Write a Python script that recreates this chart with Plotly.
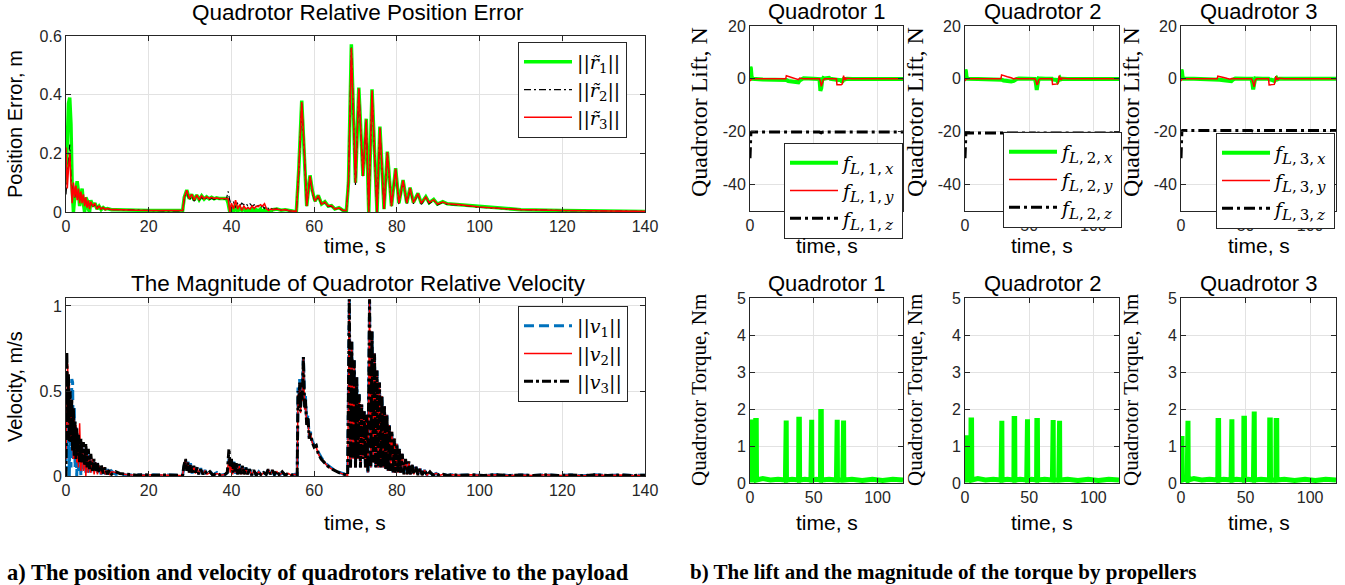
import plotly.graph_objects as go

W, H = 1345, 585

# ---------------- relative position error (m) ----------------
t_pos = [0, 0.3, 0.6, 0.9, 1.2, 1.5, 1.8, 2.1, 2.4, 2.7, 3.0, 3.3, 3.6, 3.9, 4.2, 4.5, 4.8, 5.1, 5.4, 5.7,
         6.0, 6.5, 7.0, 7.5, 8.0, 8.5, 9.0, 9.5, 10, 11, 12,
         14, 17, 20, 24, 28.2,
         28.6, 29.2, 29.8, 30.4, 31.0, 31.6, 32.2, 32.8, 33.4, 34.0, 34.6, 35.2, 35.8, 36.4, 37.0, 37.6, 38.2, 38.8,
         39.2, 39.6, 40.0, 40.5, 41.0, 41.5, 42.0, 42.5, 43.0, 43.5, 44.0, 44.5, 45.0, 45.5, 46.0, 46.5, 47.0,
         47.5, 48.0, 48.5, 49.0, 49.5, 50, 51, 52, 53, 54, 55, 55.7,
         56.3, 57.0, 57.6, 58.2, 59.0, 59.6, 60.2, 61.0, 61.8, 62.6, 63.4, 64.2, 65, 66, 67, 67.8,
         68.3, 69.0, 70.0, 70.8, 71.8, 72.6, 73.2, 74.0, 75.2, 75.9, 76.9, 77.7, 78.7, 79.7, 80.5, 81.5, 82.4,
         83.2, 84.0, 85.1, 85.9, 87.0, 87.8, 88.9, 89.8, 91.1, 92.2,
         95, 100, 105, 110, 120, 130, 140]

r1 = [0.10, 0.28, 0.37, 0.39, 0.30, 0.08, 0.0, 0.05, 0.09, 0.105, 0.07, 0.02, 0.06, 0.08, 0.03, 0.0, 0.05, 0.04, 0.01, 0.0,
      0.04, 0.02, 0.03, 0.01, 0.02, 0.008, 0.015, 0.01, 0.012, 0.008, 0.008,
      0.007, 0.006, 0.005, 0.005, 0.005,
      0.05, 0.075, 0.045, 0.06, 0.04, 0.058, 0.042, 0.055, 0.044, 0.052, 0.045, 0.05, 0.045, 0.048, 0.046, 0.047, 0.046, 0.046,
      0.03, 0.0, 0.02, 0.0, 0.025, 0.0, 0.015, 0.005, 0.012, 0.0, 0.01, 0.003, 0.01, 0.0, 0.008, 0.003, 0.01,
      0.0, 0.008, 0.0, 0.006, 0.002, 0.008, 0.01, 0.006, 0.008, 0.004, 0.003, 0.002,
      0.15, 0.38, 0.22, 0.02, 0.125, 0.07, 0.037, 0.057, 0.027, 0.035, 0.02, 0.022, 0.01, 0.015, 0.005, 0.005,
      0.10, 0.572, 0.10, 0.424, 0.123, 0.318, 0.0, 0.418, 0.0, 0.291, 0.01, 0.206, 0.02, 0.149, 0.03, 0.109, 0.03,
      0.083, 0.032, 0.064, 0.03, 0.052, 0.032, 0.043, 0.027, 0.035, 0.028,
      0.025, 0.017, 0.012, 0.008, 0.005, 0.003, 0.002]

r2 = [0.06, 0.12, 0.20, 0.23, 0.12, 0.06, 0.09, 0.05, 0.08, 0.05, 0.07, 0.04, 0.06, 0.04, 0.05, 0.03, 0.04, 0.02, 0.035, 0.02,
      0.03, 0.02, 0.025, 0.015, 0.02, 0.01, 0.015, 0.008, 0.012, 0.008, 0.008,
      0.007, 0.006, 0.005, 0.004, 0.004,
      0.045, 0.07, 0.04, 0.055, 0.037, 0.054, 0.04, 0.051, 0.041, 0.049, 0.042, 0.047, 0.043, 0.045, 0.044, 0.045, 0.044, 0.045,
      0.07, 0.04, 0.02, 0.035, 0.015, 0.03, 0.02, 0.03, 0.025, 0.03, 0.02, 0.028, 0.02, 0.025, 0.018, 0.022, 0.015,
      0.02, 0.012, 0.02, 0.01, 0.015, 0.008, 0.012, 0.006, 0.008, 0.004, 0.003, 0.002,
      0.14, 0.37, 0.21, 0.02, 0.12, 0.065, 0.035, 0.053, 0.025, 0.032, 0.018, 0.02, 0.01, 0.013, 0.005, 0.005,
      0.10, 0.56, 0.09, 0.42, 0.12, 0.31, 0.0, 0.405, 0.0, 0.285, 0.01, 0.2, 0.02, 0.145, 0.025, 0.105, 0.027,
      0.08, 0.028, 0.062, 0.026, 0.05, 0.028, 0.041, 0.024, 0.033, 0.026,
      0.024, 0.016, 0.011, 0.008, 0.005, 0.003, 0.002]

r3 = [0.22, 0.08, 0.15, 0.20, 0.10, 0.03, 0.10, 0.05, 0.09, 0.04, 0.08, 0.03, 0.07, 0.03, 0.06, 0.02, 0.05, 0.015, 0.04, 0.01,
      0.035, 0.02, 0.03, 0.01, 0.02, 0.01, 0.015, 0.008, 0.012, 0.008, 0.008,
      0.008, 0.006, 0.005, 0.005, 0.005,
      0.05, 0.074, 0.046, 0.06, 0.041, 0.058, 0.043, 0.055, 0.045, 0.052, 0.046, 0.05, 0.046, 0.048, 0.046, 0.047, 0.046, 0.046,
      0.045, 0.0, 0.03, 0.01, 0.04, 0.01, 0.025, 0.005, 0.02, 0.01, 0.015, 0.01, 0.02, 0.012, 0.02, 0.018, 0.025,
      0.02, 0.028, 0.01, 0.005, 0.01, 0.008, 0.01, 0.006, 0.008, 0.004, 0.003, 0.002,
      0.15, 0.375, 0.22, 0.02, 0.122, 0.07, 0.037, 0.056, 0.027, 0.034, 0.02, 0.022, 0.01, 0.014, 0.005, 0.005,
      0.10, 0.56, 0.10, 0.422, 0.123, 0.315, 0.0, 0.415, 0.0, 0.288, 0.01, 0.204, 0.02, 0.147, 0.03, 0.108, 0.03,
      0.082, 0.032, 0.063, 0.03, 0.051, 0.032, 0.042, 0.027, 0.034, 0.028,
      0.025, 0.017, 0.012, 0.008, 0.005, 0.003, 0.002]

# ---------------- relative velocity magnitude (m/s) ----------------
t_vel_head = [0, 0.2, 0.4, 0.6, 0.8, 1.0, 1.2, 1.4, 1.6, 1.8, 2.0, 2.2, 2.4, 2.6, 2.8, 3.0, 3.3, 3.6, 3.9, 4.2, 4.5,
              4.8, 5.1, 5.4, 5.7, 6.0, 6.4, 6.8, 7.2, 7.6, 8.0, 8.5, 9.0, 9.5, 10, 10.5, 11, 12,
              13, 15, 17, 19, 21, 23, 25, 27, 28.2,
              28.5, 28.9, 29.2, 29.5, 29.8, 30.1, 30.5, 30.9, 31.3, 31.7, 32.1, 32.6, 33.1, 33.6, 34.1, 34.8, 35.5,
              36.5, 37.5, 38.5,
              39.0, 39.4, 39.7, 40.0, 40.3, 40.6, 40.9, 41.2, 41.5, 41.9, 42.3, 42.7, 43.1, 43.5, 43.9, 44.4, 44.9,
              45.4, 46.0, 46.6, 47.2, 47.8, 48.4, 48.9, 49.4, 49.9, 50.4, 51.0, 51.6, 52.3, 53.0, 53.7, 54.5, 55.3, 55.9,
              56.1, 56.3, 56.5, 56.7, 56.9, 57.1, 57.4, 57.7, 57.9, 58.2, 58.5, 58.8, 59.1, 59.5, 60.0, 60.5, 61.0,
              61.7, 62.4, 63.2, 64.0, 65.0, 66.0, 67.0, 67.8, 68.1]

v1_head = [0.0, 0.4, 0.1, 0.45, 0.0, 0.35, 0.05, 0.57, 0.55, 0.1, 0.4, 0.05, 0.3, 0.0, 0.25, 0.03, 0.2, 0.0, 0.18, 0.04, 0.17,
           0.02, 0.15, 0.02, 0.13, 0.02, 0.1, 0.02, 0.08, 0.02, 0.06, 0.01, 0.05, 0.01, 0.04, 0.01, 0.03, 0.01,
           0.012, 0.004, 0.008, 0.003, 0.007, 0.003, 0.006, 0.002, 0.004,
           0.05, 0.09, 0.04, 0.085, 0.02, 0.075, 0.015, 0.065, 0.02, 0.055, 0.01, 0.045, 0.01, 0.035, 0.01, 0.03, 0.005,
           0.02, 0.005, 0.01,
           0.02, 0.1, 0.04, 0.09, 0.02, 0.085, 0.01, 0.075, 0.01, 0.065, 0.01, 0.055, 0.01, 0.05, 0.005, 0.04, 0.005,
           0.03, 0.005, 0.025, 0.005, 0.02, 0.01, 0.035, 0.01, 0.03, 0.005, 0.025, 0.005, 0.02, 0.005, 0.015, 0.005, 0.01, 0.003,
           0.52, 0.42, 0.57, 0.4, 0.52, 0.47, 0.70, 0.42, 0.47, 0.31, 0.36, 0.23, 0.26, 0.21, 0.18, 0.18, 0.14,
           0.11, 0.085, 0.065, 0.05, 0.033, 0.022, 0.013, 0.009, 0.005]

v2_head = [0.1, 0.5, 0.66, 0.3, 0.55, 0.2, 0.45, 0.15, 0.4, 0.1, 0.35, 0.1, 0.3, 0.08, 0.2, 0.05, 0.31, 0.03, 0.2, 0.03, 0.15,
           0.0, 0.14, 0.02, 0.12, 0.02, 0.1, 0.01, 0.08, 0.01, 0.06, 0.01, 0.05, 0.01, 0.035, 0.01, 0.025, 0.02,
           0.014, 0.008, 0.006, 0.004, 0.007, 0.004, 0.005, 0.003, 0.004,
           0.06, 0.095, 0.03, 0.08, 0.02, 0.065, 0.02, 0.055, 0.015, 0.05, 0.01, 0.04, 0.01, 0.03, 0.01, 0.02, 0.005,
           0.015, 0.005, 0.01,
           0.03, 0.1, 0.02, 0.08, 0.01, 0.07, 0.02, 0.06, 0.01, 0.06, 0.01, 0.05, 0.01, 0.045, 0.01, 0.035, 0.005,
           0.03, 0.005, 0.025, 0.005, 0.02, 0.01, 0.04, 0.01, 0.03, 0.01, 0.025, 0.005, 0.02, 0.005, 0.015, 0.005, 0.01, 0.003,
           0.48, 0.4, 0.54, 0.37, 0.49, 0.44, 0.69, 0.39, 0.44, 0.3, 0.34, 0.22, 0.25, 0.2, 0.17, 0.17, 0.13,
           0.1, 0.08, 0.06, 0.045, 0.03, 0.02, 0.012, 0.008, 0.005]

v3_head = [0.0, 0.73, 0.35, 0.6, 0.2, 0.5, 0.2, 0.45, 0.15, 0.4, 0.12, 0.32, 0.1, 0.28, 0.12, 0.25, 0.08, 0.22, 0.08, 0.2, 0.06,
           0.19, 0.05, 0.16, 0.04, 0.13, 0.03, 0.1, 0.03, 0.08, 0.02, 0.065, 0.015, 0.05, 0.01, 0.035, 0.01, 0.025,
           0.015, 0.01, 0.005, 0.008, 0.004, 0.006, 0.004, 0.005, 0.004,
           0.06, 0.1, 0.03, 0.08, 0.02, 0.07, 0.02, 0.06, 0.02, 0.05, 0.01, 0.04, 0.01, 0.03, 0.01, 0.025, 0.005,
           0.015, 0.005, 0.01,
           0.02, 0.16, 0.05, 0.1, 0.02, 0.08, 0.02, 0.08, 0.01, 0.07, 0.01, 0.06, 0.01, 0.05, 0.01, 0.04, 0.005,
           0.035, 0.005, 0.025, 0.005, 0.02, 0.01, 0.04, 0.01, 0.035, 0.01, 0.03, 0.005, 0.025, 0.005, 0.015, 0.005, 0.01, 0.003,
           0.5, 0.4, 0.55, 0.38, 0.5, 0.45, 0.70, 0.4, 0.45, 0.3, 0.35, 0.22, 0.25, 0.2, 0.17, 0.18, 0.13,
           0.1, 0.08, 0.06, 0.045, 0.03, 0.02, 0.012, 0.008, 0.005]

# oscillating section after 68 s, shared by all three quadrotors
t_vel_tail = [68.5, 68.8, 69.1, 69.4, 69.7, 70.0, 70.3, 70.6, 70.9, 71.2, 71.5, 71.8, 72.1, 72.4, 72.7, 73.0,
              73.4, 73.7, 74.0, 74.3, 74.6, 74.9, 75.2, 75.5, 75.8, 76.1, 76.4, 76.7, 77.0, 77.3, 77.6, 77.9,
              78.2, 78.5, 78.8, 79.1, 79.4, 79.7, 80.0, 80.3, 80.6, 80.9, 81.3, 81.7, 82.1, 82.5, 82.9, 83.3,
              83.7, 84.1, 84.6, 85.1, 85.6, 86.1, 86.7, 87.3, 88.0, 88.7, 89.5, 90.3, 91.2, 92.2,
              93.5, 95, 98, 101, 104, 107, 110, 113, 116, 119, 122, 125, 128, 131, 134, 137, 140]
vel_tail = [1.04, 0.05, 0.79, 0.1, 0.68, 0.05, 0.58, 0.1, 0.48, 0.05, 0.42, 0.1, 0.38, 0.05, 0.36, 0.02,
            1.04, 0.05, 0.85, 0.08, 0.72, 0.05, 0.62, 0.05, 0.55, 0.05, 0.47, 0.05, 0.41, 0.04, 0.36, 0.03,
            0.30, 0.03, 0.26, 0.02, 0.22, 0.02, 0.19, 0.02, 0.16, 0.02, 0.13, 0.01, 0.1, 0.01, 0.085, 0.01,
            0.065, 0.01, 0.055, 0.005, 0.045, 0.005, 0.035, 0.005, 0.025, 0.005, 0.015, 0.003, 0.01, 0.003,
            0.008, 0.004, 0.007, 0.003, 0.008, 0.003, 0.006, 0.003, 0.007, 0.003, 0.006, 0.002, 0.007, 0.003,
            0.006, 0.003, 0.005]

# ---------------- lift components (N) ----------------
t_lift = [0, 0.3, 0.7, 1.2, 2.0, 10, 20, 28.0, 28.5, 30, 33, 36, 38, 39, 40.5, 42, 50, 54.5, 55.2, 55.9,
          56.6, 57.5, 58.5, 62, 63, 67.8, 68.2, 70, 71.5, 72.2, 72.8, 73.4, 74.0, 74.6, 75.2, 76, 80, 90, 100, 110, 120]

fx1 = [0.5, 4.5, 4.0, 1.0, 0.0, -0.2, -0.2, -0.2, -0.4, -0.8, -1.1, -1.2, -1.3, -0.6, 0.0, 0.2, 0.0, -0.1, -4.5, -3.5,
       -0.5, 0.3, 0.1, 0.4, 0.0, 0.0, -0.3, -0.4, -0.5, -1.3, -0.5, 0.0, 0.3, -0.2, 0.1, 0.0, -0.1, -0.1, -0.1, -0.1, -0.1]
fy1 = [-0.5, -0.8, -0.3, 0.0, 0.0, 0.0, 0.0, 0.0, 1.2, 1.0, 0.6, 0.1, -0.3, 0.3, 0.2, 0.0, 0.0, 0.0, -1.0, -2.8,
       -1.8, -0.3, 0.0, 0.0, 0.0, 0.0, -2.2, -2.3, -2.2, -2.0, -1.0, 1.2, -0.3, 0.5, -0.2, 0.2, 0.0, 0.0, 0.0, 0.0, 0.0]
fz1 = [-30, -22, -20.3, -20.1, -20.1, -20.1, -20.1, -20.1, -20.0, -20.0, -20.1, -20.2, -20.2, -20.1, -20.1, -20.1,
       -20.1, -20.1, -20.3, -20.4, -20.2, -20.1, -20.1, -20.1, -20.1, -20.1, -20.0, -20.1, -20.2, -20.2, -20.1,
       -20.0, -20.1, -20.1, -20.1, -20.1, -20.1, -20.1, -20.1, -20.1, -20.1]

fx2 = [0.5, 3.5, 3.0, 0.8, 0.0, -0.1, -0.1, -0.1, -0.3, -0.6, -0.9, -1.0, -0.8, -0.4, 0.0, 0.1, 0.0, 0.0, -1.5, -4.2,
       -2.0, 0.2, 0.1, 0.3, 0.0, 0.0, -0.2, -0.3, -0.4, -1.0, -0.4, 0.0, 0.3, -0.2, 0.1, 0.0, -0.1, -0.1, -0.1, -0.1, -0.1]
fy2 = [-0.3, -0.5, -0.2, 0.0, 0.0, 0.0, 0.0, 0.0, 1.5, 1.2, 0.8, 0.4, 0.0, 0.2, 0.1, 0.0, 0.0, 0.0, -0.5, -2.1,
       -2.0, -0.3, 0.0, 0.0, 0.0, 0.0, -2.1, -2.1, -2.0, -1.9, -1.0, 1.2, -0.3, 0.5, -0.2, 0.2, 0.0, 0.0, 0.0, 0.0, 0.0]
fz2 = [-30, -22, -20.6, -20.5, -20.5, -20.5, -20.5, -20.5, -20.4, -20.4, -20.5, -20.6, -20.6, -20.5, -20.5, -20.5,
       -20.5, -20.5, -20.7, -20.8, -20.6, -20.5, -20.5, -20.5, -20.5, -20.5, -20.4, -20.5, -20.6, -20.6, -20.5,
       -20.4, -20.5, -20.5, -20.5, -20.5, -20.5, -20.5, -20.5, -20.5, -20.5]

fx3 = [0.5, 3.5, 3.0, 0.8, 0.0, 0.0, 0.0, 0.0, -0.1, -0.3, -0.5, -0.8, -1.0, -0.9, -0.2, 0.1, 0.0, 0.0, -1.5, -4.0,
       -2.0, 0.2, 0.1, 0.3, 0.0, 0.0, -0.2, -0.3, -0.4, -0.8, -0.3, 0.0, 0.3, -0.2, 0.1, 0.0, 0.0, 0.0, 0.0, 0.0, 0.0]
fy3 = [-0.3, -0.5, -0.2, 0.0, 0.0, 0.0, 0.0, 0.0, 1.0, 0.9, 0.5, 0.1, -0.1, 0.1, 0.0, 0.0, 0.0, 0.0, -0.5, -1.5,
       -3.0, -0.5, 0.0, 0.0, 0.0, 0.0, -2.3, -2.3, -2.2, -2.1, -1.0, 1.0, -0.3, 0.4, -0.2, 0.2, 0.0, 0.0, 0.0, 0.0, 0.0]
fz3 = [-30, -22, -19.6, -19.5, -19.5, -19.5, -19.5, -19.5, -19.4, -19.4, -19.5, -19.6, -19.6, -19.5, -19.5, -19.5,
       -19.5, -19.5, -19.7, -19.8, -19.6, -19.5, -19.5, -19.5, -19.5, -19.5, -19.4, -19.5, -19.6, -19.6, -19.5,
       -19.4, -19.5, -19.5, -19.5, -19.5, -19.5, -19.5, -19.5, -19.5, -19.5]

# ---------------- propeller torque magnitude (Nm) ----------------
t_tq1 = [0, 0.2, 0.4, 0.8, 1.0, 3, 4.3, 4.5, 4.9, 5.1, 10, 16, 22, 27.8, 28.0, 28.4, 28.6, 33, 38.1, 38.3, 38.7, 38.9,
         43, 47.8, 48.0, 48.4, 48.6, 52, 55.3, 55.5, 55.9, 56.1, 62, 67.8, 68.0, 68.4, 68.6, 72.8, 73.0, 73.4, 73.6,
         80, 88, 96, 104, 112, 120]
tq1 = [0.08, 0.08, 1.65, 1.65, 0.08, 0.1, 0.08, 1.69, 1.69, 0.08, 0.12, 0.08, 0.1, 0.08, 1.69, 1.69, 0.08, 0.1, 0.08,
       1.72, 1.72, 0.08, 0.1, 0.08, 1.71, 1.71, 0.08, 0.1, 0.08, 1.93, 1.93, 0.08, 0.1, 0.08, 1.71, 1.71, 0.08, 0.08,
       1.69, 1.69, 0.08, 0.1, 0.07, 0.1, 0.07, 0.1, 0.08]

t_tq2 = [0, 0.2, 0.4, 0.8, 1.0, 3, 4.5, 4.7, 5.1, 5.3, 10, 16, 22, 28.1, 28.3, 28.7, 28.9, 33, 38.1, 38.3, 38.7, 38.9,
         43, 48.1, 48.3, 48.7, 48.9, 52, 55.8, 56.0, 56.4, 56.6, 62, 68.1, 68.3, 68.7, 68.9, 73.1, 73.3, 73.7, 73.9,
         80, 88, 96, 104, 112, 120]
tq2 = [0.08, 0.08, 1.22, 1.22, 0.08, 0.1, 0.08, 1.7, 1.7, 0.08, 0.12, 0.08, 0.1, 0.08, 1.68, 1.68, 0.08, 0.1, 0.08,
       1.74, 1.74, 0.08, 0.1, 0.08, 1.72, 1.72, 0.08, 0.1, 0.08, 1.69, 1.69, 0.08, 0.1, 0.08, 1.7, 1.7, 0.08, 0.08,
       1.68, 1.68, 0.08, 0.1, 0.07, 0.1, 0.07, 0.1, 0.08]

t_tq3 = [0, 0.2, 0.4, 0.8, 1.0, 3, 4.8, 5.0, 5.4, 5.6, 10, 16, 22, 28.5, 28.7, 29.1, 29.3, 33, 38.8, 39.0, 39.4, 39.6,
         43, 48.5, 48.7, 49.1, 49.3, 52, 56.1, 56.3, 56.7, 56.9, 62, 68.5, 68.7, 69.1, 69.3, 73.5, 73.7, 74.1, 74.3,
         80, 88, 96, 104, 112, 120]
tq3 = [0.08, 0.08, 1.2, 1.2, 0.08, 0.1, 0.08, 1.68, 1.68, 0.08, 0.12, 0.08, 0.1, 0.08, 1.69, 1.69, 0.08, 0.1, 0.08,
       1.72, 1.72, 0.08, 0.1, 0.08, 1.75, 1.75, 0.08, 0.1, 0.08, 1.93, 1.93, 0.08, 0.1, 0.08, 1.7, 1.7, 0.08, 0.08,
       1.69, 1.69, 0.08, 0.1, 0.07, 0.1, 0.07, 0.1, 0.08]

pos_names = ["||<i>r\u0303</i><sub>1</sub>||", "||<i>r\u0303</i><sub>2</sub>||", "||<i>r\u0303</i><sub>3</sub>||"]
vel_names = ["||<i>v</i><sub>1</sub>||", "||<i>v</i><sub>2</sub>||", "||<i>v</i><sub>3</sub>||"]
quad_titles = ["Quadrotor 1", "Quadrotor 2", "Quadrotor 3"]

# ---------------- styling ----------------
SANS = "Liberation Sans"
SERIF = "Liberation Serif"
MATH = "DejaVu Serif"
GREEN, RED, BLACK, BLUE = "#00ff00", "#ff0000", "#000000", "#0072bd"
AXC = "#262626"


def px_x(p):
    return p / W


def px_y(p):
    return 1 - p / H


def axis_style(**kw):
    d = dict(showline=True, linecolor=AXC, linewidth=1, mirror="ticks", ticks="inside", ticklen=5,
             tickcolor=AXC, showgrid=True, gridcolor="#e2e2e2", gridwidth=1, zeroline=False,
             automargin=False, tickfont=dict(family=SANS, size=16, color=AXC))
    d.update(kw)
    return d


def lift_name(q, comp):
    return (f"<i>f</i><sub><span style='font-size:15px'><i>L</i>,\u2009{q},\u2009<i>{comp}</i>"
            f"</span></sub>")


fig = go.Figure()

# panel frames in pixels: (left, right, top, bottom)
frames = {
    1: (66, 645, 36, 212),      # position error
    2: (66, 645, 298, 476),     # velocity
    3: (750, 903, 26, 211),     # lift Q1
    4: (965, 1119, 26, 211),    # lift Q2
    5: (1181, 1336, 26, 211),   # lift Q3
    6: (750, 903, 298, 483),    # torque Q1
    7: (965, 1119, 298, 483),   # torque Q2
    8: (1181, 1336, 298, 483),  # torque Q3
}

layout = {}
for k, (l, r, t, b) in frames.items():
    xa = "xaxis" if k == 1 else f"xaxis{k}"
    ya = "yaxis" if k == 1 else f"yaxis{k}"
    anchor_x = "y" if k == 1 else f"y{k}"
    anchor_y = "x" if k == 1 else f"x{k}"
    if k in (1, 2):
        xk = axis_style(range=[0, 140], tickvals=[0, 20, 40, 60, 80, 100, 120, 140])
    else:
        xk = axis_style(range=[0, 120], tickvals=[0, 50, 100])
    if k == 1:
        yk = axis_style(range=[0, 0.6], tickvals=[0, 0.2, 0.4, 0.6], ticktext=["0", "0.2", "0.4", "0.6"])
    elif k == 2:
        yk = axis_style(range=[0, 1.047], tickvals=[0, 0.5, 1], ticktext=["0", "0.5", "1"])
    elif k in (3, 4, 5):
        yk = axis_style(range=[-50, 20], tickvals=[-40, -20, 0, 20], ticktext=["-40", "-20", "0", "20"])
    else:
        yk = axis_style(range=[0, 5], tickvals=[0, 1, 2, 3, 4, 5])
    xk.update(domain=[px_x(l), px_x(r)], anchor=anchor_x)
    yk.update(domain=[px_y(b), px_y(t)], anchor=anchor_y)
    layout[xa] = xk
    layout[ya] = yk


def ax(k):
    return ("x", "y") if k == 1 else (f"x{k}", f"y{k}")


# position error traces
for vals, name, color, width, dash in [
        (r1, pos_names[0], GREEN, 3.5, "solid"),
        (r2, pos_names[1], BLACK, 1.2, "7px,3px,2px,3px"),
        (r3, pos_names[2], RED, 1.6, "solid")]:
    xr, yr = ax(1)
    fig.add_trace(go.Scatter(x=t_pos, y=vals, mode="lines", name=name, xaxis=xr, yaxis=yr,
                             line=dict(color=color, width=width, dash=dash), legend="legend"))

# velocity traces
t_vel = t_vel_head + t_vel_tail
for vals, name, color, width, dash in [
        (v1_head + vel_tail, vel_names[0], BLUE, 3, "10px,5px"),
        (v2_head + vel_tail, vel_names[1], RED, 1.5, "solid"),
        (v3_head + vel_tail, vel_names[2], BLACK, 3, "9px,3px,3px,3px")]:
    xr, yr = ax(2)
    fig.add_trace(go.Scatter(x=t_vel, y=vals, mode="lines", name=name, xaxis=xr, yaxis=yr,
                             line=dict(color=color, width=width, dash=dash), legend="legend2"))

# lift traces
lift_sets = [(fx1, fy1, fz1), (fx2, fy2, fz2), (fx3, fy3, fz3)]
for i, (fxv, fyv, fzv) in enumerate(lift_sets):
    k = 3 + i
    xr, yr = ax(k)
    lg = f"legend{k}"
    q = i + 1
    fig.add_trace(go.Scatter(x=t_lift, y=fxv, mode="lines", xaxis=xr, yaxis=yr, legend=lg,
                             name=lift_name(q, "x"), line=dict(color=GREEN, width=4)))
    fig.add_trace(go.Scatter(x=t_lift, y=fyv, mode="lines", xaxis=xr, yaxis=yr, legend=lg,
                             name=lift_name(q, "y"), line=dict(color=RED, width=1.5)))
    fig.add_trace(go.Scatter(x=t_lift, y=fzv, mode="lines", xaxis=xr, yaxis=yr, legend=lg,
                             name=lift_name(q, "z"),
                             line=dict(color=BLACK, width=3, dash="11px,4px,3px,4px")))

# torque traces
for i, (tt, vv) in enumerate([(t_tq1, tq1), (t_tq2, tq2), (t_tq3, tq3)]):
    xr, yr = ax(6 + i)
    fig.add_trace(go.Scatter(x=tt, y=vv, mode="lines", xaxis=xr, yaxis=yr, showlegend=False,
                             line=dict(color=GREEN, width=5)))

legend_common = dict(xanchor="left", yanchor="top", bgcolor="white", bordercolor=AXC, borderwidth=1,
                     font=dict(family=MATH, size=19, color="black"), itemwidth=48, tracegroupgap=0,
                     itemclick=False, itemdoubleclick=False)
legend_pos = {"legend": (518, 42), "legend2": (518, 306), "legend3": (784, 143),
              "legend4": (1003, 132), "legend5": (1216, 133)}
for key, (lx, ly) in legend_pos.items():
    layout[key] = dict(legend_common, x=px_x(lx), y=px_y(ly))

ann = []


def text(x, y, s, size, family=SANS, angle=0, xanchor="center"):
    ann.append(dict(x=px_x(x), y=px_y(y), xref="paper", yref="paper", text=s, showarrow=False,
                    textangle=angle, xanchor=xanchor, yanchor="middle",
                    font=dict(family=family, size=size, color="black")))


# panel titles
text(358, 12, "Quadrotor Relative Position Error", 22.5)
text(358, 283, "The Magnitude of Quadrotor Relative Velocity", 22.5)
for i, (l, r, t, b) in enumerate([frames[3], frames[4], frames[5]]):
    text((l + r) / 2, 11, quad_titles[i], 22)
for i, (l, r, t, b) in enumerate([frames[6], frames[7], frames[8]]):
    text((l + r) / 2, 283, quad_titles[i], 22)

# x-axis titles
for k, (l, r, t, b) in frames.items():
    ylab = 245 if b < 250 else 522
    text((l + r) / 2, ylab, "time, s", 21)

# y-axis titles
text(15, 124, "Position Error, m", 20, angle=-90)
text(15, 387, "Velocity, m/s", 20, angle=-90)
for xl in (699, 915, 1131):
    text(xl, 112, "Quadrotor Lift, N", 24, family=SERIF, angle=-90)
    text(xl, 390, "Quadrotor Torque, Nm", 21, family=SERIF, angle=-90)

# captions
text(5, 572, "<b>a) The position and velocity of quadrotors relative to the payload</b>", 22.5,
     family=SERIF, xanchor="left")
text(688, 572, "<b>b) The lift and the magnitude of the torque by propellers</b>", 21,
     family=SERIF, xanchor="left")

layout.update(width=W, height=H, margin=dict(l=0, r=0, t=0, b=0), paper_bgcolor="white",
              plot_bgcolor="white", annotations=ann, showlegend=True)
fig.update_layout(**layout)

fig.write_html("out.html", post_script="document.body.style.margin='0px';")
